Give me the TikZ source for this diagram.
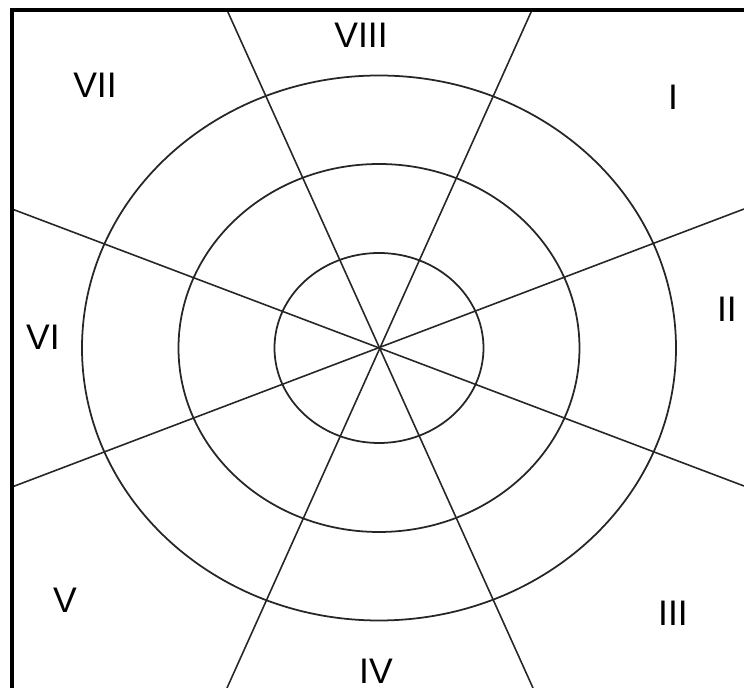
\documentclass[tikz,border=0pt]{standalone}
\usepackage{fontspec}
\setmainfont{Liberation Sans}

\tikzset{
  sector/.style={line width=0.45pt, black!85},
  ring/.style={line width=0.5pt, black!85},
  frame/.style={line width=1.1pt},
}

\begin{document}
\begin{tikzpicture}[x=0.01cm, y=-0.01cm, every node/.style={font=\fontsize{10.1}{12}\selectfont, inner sep=0pt}]
    \useasboundingbox (0,0) rectangle (744,688);
    \coordinate (c) at (379,348);
    % sector boundaries
    \foreach \a/\b in {227/533, 532/227} {
      \draw[sector] (\a,10) -- (\b,688);
    }
    \foreach \a/\b in {209/486, 487/209} {
      \draw[sector] (12,\a) -- (744,\b);
    }
    % rings
    \foreach \rx/\ry in {104.5/95, 200.5/184, 297/272.5} {
      \draw[ring] (c) ellipse [x radius=\rx, y radius=\ry];
    }
    \draw[frame] (12,688) -- (12,10) -- (744,10);
    % sector numbers
    \foreach \n/\x/\y in {I/673/97, II/727/309, III/673/613, IV/376/671,
                          V/65/600, VI/43/337, VII/95/85, VIII/361/35} {
      \node (s\n) at (\x,\y) {\n};
    }
\end{tikzpicture}
\end{document}
